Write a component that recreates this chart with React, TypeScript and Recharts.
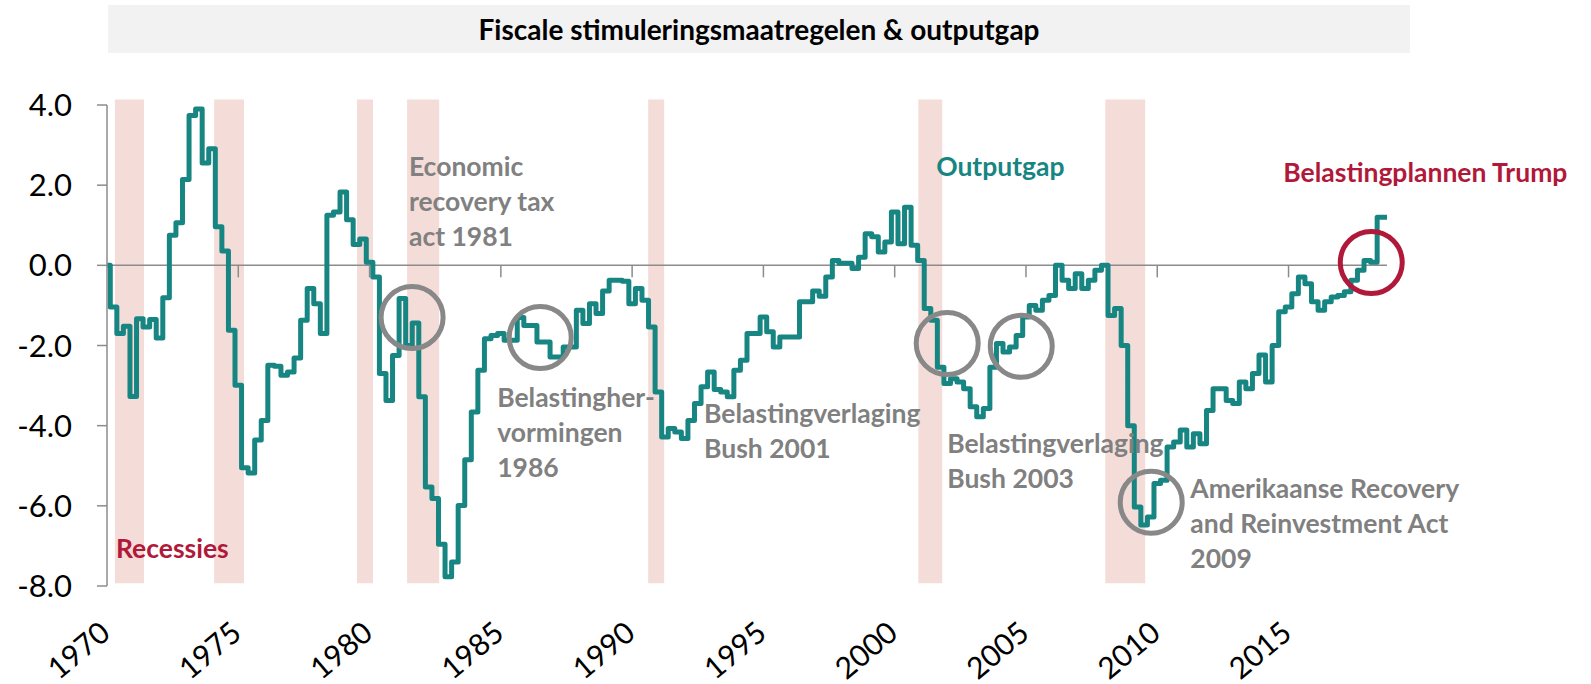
import { ComposedChart, Line, XAxis, YAxis, ReferenceArea, ReferenceLine, ReferenceDot } from 'recharts';

// US output gap (% of potential GDP), quarterly from 1970Q1.
const START_YEAR = 1970;
const outputGap = [
  0.0, -1.04, -1.7, -1.52, -3.27, -1.33, -1.54, -1.35, -1.81, -0.81,
  0.75, 1.06, 2.14, 3.74, 3.9, 2.55, 2.91, 0.96, 0.36, -1.62,
  -2.99, -5.05, -5.18, -4.36, -3.87, -2.49, -2.52, -2.74, -2.66, -2.31,
  -1.37, -0.58, -0.96, -1.7, 1.25, 1.33, 1.83, 1.14, 0.52, 0.66,
  0.08, -0.29, -2.7, -3.37, -2.25, -0.83, -2.0, -1.44, -3.28, -5.53,
  -5.82, -6.96, -7.77, -7.4, -5.99, -4.85, -3.66, -2.62, -1.83, -1.75,
  -1.7, -1.87, -1.87, -1.3, -1.5, -1.5, -1.91, -1.91, -2.29, -2.29,
  -2.04, -2.04, -1.12, -1.45, -0.96, -1.2, -0.64, -0.37, -0.37, -0.4,
  -0.96, -0.58, -0.87, -1.54, -3.16, -4.28, -4.07, -4.16, -4.32, -3.87,
  -3.45, -3.03, -2.66, -3.1, -3.16, -3.28, -2.62, -2.37, -1.7, -1.7,
  -1.29, -1.66, -2.04, -1.79, -1.79, -1.79, -0.91, -0.91, -0.64, -0.77,
  -0.29, 0.12, 0.05, 0.05, -0.08, 0.2, 0.79, 0.71, 0.33, 0.58,
  1.33, 0.54, 1.45, 0.5, 0.12, -1.08, -1.37, -2.54, -2.95, -2.83,
  -2.91, -3.08, -3.53, -3.78, -3.57, -2.54, -1.95, -2.16, -2.04, -1.75,
  -1.29, -1.0, -1.12, -0.87, -0.75, 0.0, -0.37, -0.58, -0.21, -0.58,
  -0.37, -0.12, 0.0, -1.25, -1.08, -2.0, -4.0, -6.03, -6.48, -6.28,
  -5.44, -5.36, -4.53, -4.41, -4.11, -4.53, -4.2, -4.45, -3.62, -3.08,
  -3.08, -3.37, -3.45, -2.91, -3.08, -2.7, -2.24, -2.91, -2.0, -1.16,
  -1.04, -0.71, -0.29, -0.46, -0.91, -1.12, -0.91, -0.79, -0.75, -0.66,
  -0.37, -0.12, 0.12, 0.08, 1.2, 1.2,
];
const quarters = outputGap.map((_, i) => START_YEAR + i / 4);

const yearTicks = [1970, 1975, 1980, 1985, 1990, 1995, 2000, 2005, 2010, 2015];
const gapTicks = [-8, -6, -4, -2, 0, 2, 4];

// recession bands (NBER), fractional years
const recessionStart = [1970.3, 1974.08, 1979.52, 1981.43, 1990.61, 2000.9, 2008.02];
const recessionEnd = [1971.41, 1975.22, 1980.13, 1982.65, 1991.22, 2001.81, 2009.54];

// circled stimulus moments
const stimulusYear = [1981.62, 1986.5, 2002.0, 2004.82, 2009.77];
const stimulusGap = [-1.3, -1.8, -1.95, -2.02, -5.91];
const trumpYear = 2018.15;
const trumpGap = 0.07;

// annotation texts, anchored at left edge / first baseline
const noteLines = [
  ['Economic', 'recovery tax', 'act 1981'],
  ['Belastingher-', 'vormingen', '1986'],
  ['Belastingverlaging', 'Bush 2001'],
  ['Outputgap'],
  ['Belastingverlaging', 'Bush 2003'],
  ['Amerikaanse Recovery', 'and Reinvestment Act', '2009'],
  ['Belastingplannen Trump'],
  ['Recessies'],
];
const noteYear = [1981.5, 1984.86, 1992.74, 2001.58, 2002.0, 2011.26, 2014.8, 1970.34];
const noteGap = [2.24, -3.54, -3.94, 2.24, -4.69, -5.81, 2.07, -7.31];
const noteKind = ['gray', 'gray', 'gray', 'teal', 'gray', 'gray', 'red', 'red'];

const COLORS: Record<string, string> = {
  teal: '#178581',
  gray: '#808080',
  red: '#b0193a',
};
const AXIS = '#8c8c8c';
const BAND = '#f4ddd8';
const FONT = 'Lato, "Open Sans", sans-serif';

const rows = quarters.map((year, i) => ({ year, gap: outputGap[i] }));

function YearTick(props: { x?: number; y?: number; payload?: { value: number } }) {
  const { x = 0, y = 0, payload } = props;
  return (
    <g transform={`translate(${x + 5},${y + 50}) rotate(-40)`}>
      <text textAnchor="end" fill="#000" fontSize={30} fontFamily={FONT}>
        {payload?.value}
      </text>
    </g>
  );
}

function Note({ cx, cy, lines, color }: { cx?: number; cy?: number; lines: string[]; color: string }) {
  if (cx == null || cy == null) return <g />;
  return (
    <text x={cx} y={cy} fill={color} fontFamily={FONT} fontWeight={700} fontSize={26.5}>
      {lines.map((l, i) => (
        <tspan key={i} x={cx} dy={i === 0 ? 0 : 35}>{l}</tspan>
      ))}
    </text>
  );
}

export default function App() {
  return (
    <div style={{ position: 'relative', width: 1591, height: 684, background: '#fff' }}>
      <style>{'body{margin:0}'}</style>
      <div
        style={{
          position: 'absolute', left: 108, top: 5, width: 1302, height: 48,
          background: '#f2f2f2', display: 'flex', alignItems: 'center', justifyContent: 'center',
          fontFamily: FONT, fontWeight: 700, fontSize: 28, color: '#000',
        }}
      >
        Fiscale stimuleringsmaatregelen &amp; outputgap
      </div>
      <ComposedChart
        width={1591}
        height={684}
        data={rows}
        margin={{ top: 105, right: 204, bottom: 0, left: 0 }}
      >
        {recessionStart.map((s, i) => (
          <ReferenceArea
            key={`r${i}`}
            x1={s}
            x2={recessionEnd[i]}
            y1={-7.93}
            y2={4.14}
            fill={BAND}
            fillOpacity={1}
            stroke="none"
            ifOverflow="visible"
          />
        ))}
        <XAxis
          type="number"
          dataKey="year"
          domain={[1970, 2018.75]}
          ticks={yearTicks}
          interval={0}
          axisLine={false}
          tickLine={false}
          tickSize={0}
          tickMargin={0}
          height={98}
          tick={<YearTick />}
          allowDataOverflow
        />
        <YAxis
          domain={[-8, 4]}
          ticks={gapTicks}
          interval={0}
          width={107}
          tickFormatter={(v: number) => v.toFixed(1)}
          axisLine={{ stroke: AXIS, strokeWidth: 1.5 }}
          tickLine={{ stroke: AXIS, strokeWidth: 1.5 }}
          tickSize={10}
          tickMargin={25}
          tick={{ fill: '#000', fontSize: 31, fontFamily: FONT }}
          allowDataOverflow
        />
        <ReferenceLine y={0} stroke={AXIS} strokeWidth={1.5} />
        {yearTicks.slice(1).map((yr) => (
          <ReferenceLine
            key={`t${yr}`}
            segment={[{ x: yr, y: 0 }, { x: yr, y: -0.3 }]}
            stroke={AXIS}
            strokeWidth={1.5}
          />
        ))}
        <Line
          type="step"
          dataKey="gap"
          stroke={COLORS.teal}
          strokeWidth={5}
          strokeLinejoin="round"
          strokeLinecap="round"
          dot={false}
          activeDot={false}
          isAnimationActive={false}
        />
        {stimulusYear.map((yr, i) => (
          <ReferenceDot
            key={`c${i}`}
            x={yr}
            y={stimulusGap[i]}
            r={31}
            fill="none"
            stroke="#888888"
            strokeWidth={5}
            ifOverflow="visible"
          />
        ))}
        <ReferenceDot
          x={trumpYear}
          y={trumpGap}
          r={31}
          fill="none"
          stroke={COLORS.red}
          strokeWidth={5}
          ifOverflow="visible"
        />
        {noteLines.map((lines, i) => (
          <ReferenceDot
            key={`n${i}`}
            x={noteYear[i]}
            y={noteGap[i]}
            r={0}
            ifOverflow="visible"
            shape={(p: { cx?: number; cy?: number }) => (
              <Note cx={p.cx} cy={p.cy} lines={lines} color={COLORS[noteKind[i]]} />
            )}
          />
        ))}
      </ComposedChart>
    </div>
  );
}
